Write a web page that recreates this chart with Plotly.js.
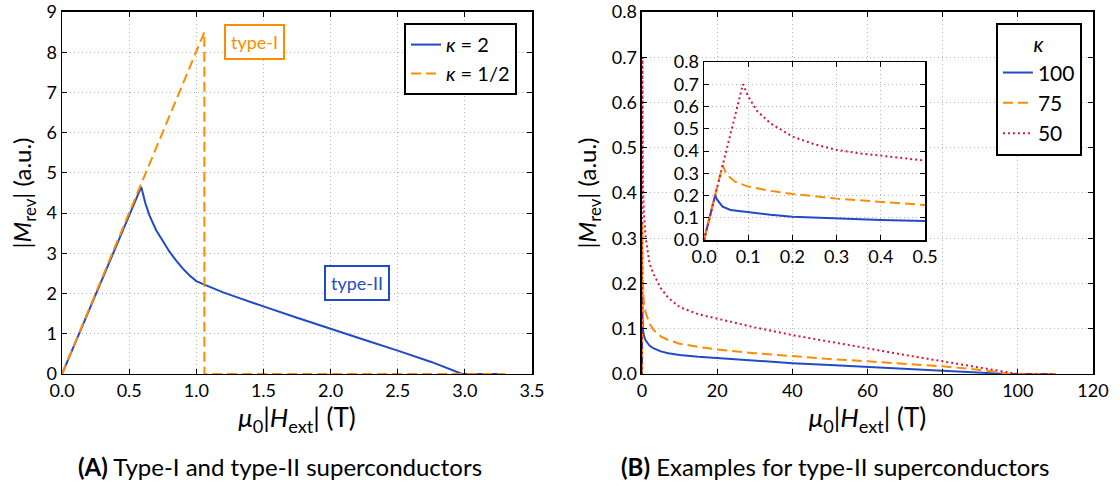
<!DOCTYPE html>
<html>
<head>
<meta charset="utf-8">
<script src="https://cdn.plot.ly/plotly-3.0.1.min.js"></script>
<style>html,body{margin:0;padding:0;background:#fff;}#chart{width:1120px;height:491px;}</style>
</head>
<body>
<div id="chart"></div>
<script>
// ---- Panel A data ----
const kappa2X = [0, 0.59, 0.62, 0.65, 0.7, 0.75, 0.8, 0.85, 0.9, 0.95, 1.0, 1.06, 1.1, 1.2, 1.3, 1.4, 1.5, 1.75, 2.0, 2.25, 2.5, 2.75, 2.98, 3.3];
const kappa2Y = [0, 4.65, 4.25, 3.95, 3.58, 3.3, 3.04, 2.82, 2.62, 2.45, 2.31, 2.22, 2.16, 2.03, 1.91, 1.79, 1.68, 1.4, 1.12, 0.85, 0.58, 0.3, 0, 0];
const kappaHalfX = [0, 1.06, 1.06, 3.3];
const kappaHalfY = [0, 8.5, 0, 0];

// ---- Panel B data ----
const k100X = [0, 0.025, 0.03, 0.042, 0.06, 0.1, 0.15, 0.2, 0.3, 0.4, 0.5, 1, 2, 3, 5, 7, 10, 15, 20, 30, 40, 50, 60, 70, 80, 90, 97, 110];
const k100Y = [0, 0.2, 0.18, 0.15, 0.135, 0.124, 0.113, 0.105, 0.096, 0.09, 0.085, 0.074, 0.063, 0.057, 0.05, 0.046, 0.042, 0.038, 0.035, 0.029, 0.024, 0.02, 0.0155, 0.011, 0.0074, 0.0035, 0, 0];
const k75X = [0, 0.042, 0.05, 0.057, 0.07, 0.1, 0.15, 0.2, 0.3, 0.4, 0.5, 1, 2, 3, 5, 7, 10, 15, 20, 30, 40, 50, 60, 70, 80, 90, 98, 110];
const k75Y = [0, 0.336, 0.3, 0.284, 0.262, 0.24, 0.221, 0.207, 0.186, 0.171, 0.157, 0.135, 0.112, 0.098, 0.083, 0.075, 0.067, 0.06, 0.054, 0.046, 0.039, 0.033, 0.028, 0.022, 0.017, 0.009, 0, 0];
const k50X = [0, 0.088, 0.1, 0.12, 0.15, 0.2, 0.25, 0.3, 0.35, 0.4, 0.45, 0.5, 1, 2, 3, 5, 7, 10, 15, 20, 30, 40, 50, 60, 70, 80, 90, 100, 110];
const k50Y = [0, 0.70, 0.645, 0.58, 0.525, 0.465, 0.43, 0.405, 0.39, 0.378, 0.367, 0.357, 0.3, 0.245, 0.222, 0.19, 0.168, 0.148, 0.132, 0.122, 0.103, 0.086, 0.071, 0.056, 0.042, 0.028, 0.014, 0, 0];

const seriesB = [
  {name: '100', x: k100X, y: k100Y, color: '#1f4bc6', dash: 'solid'},
  {name: '75',  x: k75X,  y: k75Y,  color: '#ff8c00', dash: '10px,5px'},
  {name: '50',  x: k50X,  y: k50Y,  color: '#dc143c', dash: '2px,3px'}
];

const BLUE = '#1f4bc6', ORANGE = '#ff8c00';
const FONT = 'Lato, "Open Sans", sans-serif';

const traces = [
  {x: kappa2X, y: kappa2Y, xaxis: 'x', yaxis: 'y', mode: 'lines', name: '<i>κ</i> = 2',
   line: {color: BLUE, width: 2}, legend: 'legend'},
  {x: kappaHalfX, y: kappaHalfY, xaxis: 'x', yaxis: 'y', mode: 'lines', name: '<i>κ</i> = 1/2',
   line: {color: ORANGE, width: 2, dash: '10px,5px'}, legend: 'legend'}
];
seriesB.forEach(s => {
  traces.push({x: s.x, y: s.y, xaxis: 'x2', yaxis: 'y2', mode: 'lines', name: s.name,
    line: {color: s.color, width: 2, dash: s.dash}, legend: 'legend2'});
});
seriesB.forEach(s => {
  traces.push({x: s.x, y: s.y, xaxis: 'x3', yaxis: 'y3', mode: 'lines', name: s.name,
    line: {color: s.color, width: 2, dash: s.dash}, showlegend: false});
});

const gridStyle = {gridcolor: '#b5b5b5', griddash: '1px,3px', gridwidth: 1};
function ax(extra) {
  return Object.assign({
    showline: true, linecolor: '#000', linewidth: 1.5, mirror: 'allticks',
    ticks: 'inside', ticklen: 5, tickwidth: 1, tickcolor: '#000',
    showgrid: true, zeroline: false, automargin: false,
    tickfont: {family: FONT, size: 18, color: '#000'}
  }, gridStyle, extra);
}
const xTitle = {text: '<i>μ</i><sub>0</sub>|<i>H</i><sub>ext</sub>| (T)', font: {family: FONT, size: 26, color: '#000'}, standoff: 4};
const yTitle = {text: '|<i>M</i><sub>rev</sub>| (a.u.)', font: {family: FONT, size: 24, color: '#000'}, standoff: 8};

const layout = {
  width: 1120, height: 491,
  margin: {l: 0, r: 0, t: 0, b: 0},
  paper_bgcolor: '#fff', plot_bgcolor: '#fff',
  font: {family: FONT, color: '#000'},
  xaxis: ax({domain: [0.0554, 0.475], range: [0, 3.5], dtick: 0.5, tick0: 0, tickformat: '.1f', title: xTitle, anchor: 'y'}),
  yaxis: ax({domain: [0.2383, 0.9756], range: [0, 9], dtick: 1, tick0: 0, title: yTitle, anchor: 'x'}),
  xaxis2: ax({domain: [0.5732, 0.9759], range: [0, 120], dtick: 20, tick0: 0, title: xTitle, anchor: 'y2'}),
  yaxis2: ax({domain: [0.2383, 0.9756], range: [0, 0.8], dtick: 0.1, tick0: 0, tickformat: '.1f', title: yTitle, anchor: 'x2'}),
  xaxis3: ax({domain: [0.6286, 0.8259], range: [0, 0.5], dtick: 0.1, tick0: 0, tickformat: '.1f', anchor: 'y3'}),
  yaxis3: ax({domain: [0.5112, 0.8737], range: [0, 0.8], dtick: 0.1, tick0: 0, tickformat: '.1f', anchor: 'x3'}),
  showlegend: true,
  legend: {x: 0.4616, y: 0.953, xanchor: 'right', yanchor: 'top', bgcolor: '#fff',
    bordercolor: '#000', borderwidth: 2, font: {family: FONT, size: 20, color: '#000'}},
  legend2: {x: 0.966, y: 0.953, xanchor: 'right', yanchor: 'top', bgcolor: '#fff',
    bordercolor: '#000', borderwidth: 2, font: {family: FONT, size: 21, color: '#000'},
    title: {text: '<i>κ</i>', side: 'top center', font: {family: FONT, size: 21, color: '#000'}}},
  shapes: [
    {type: 'rect', xref: 'x3 domain', yref: 'y3 domain', x0: 0, x1: 1, y0: 0, y1: 1,
     fillcolor: '#fff', line: {width: 0}, layer: 'below'}
  ],
  annotations: [
    {xref: 'x', yref: 'y', x: 1.43, y: 8.25, text: 'type-I', showarrow: false,
     font: {family: FONT, size: 18, color: ORANGE}, bordercolor: ORANGE, borderwidth: 2, borderpad: 5, bgcolor: '#fff'},
    {xref: 'x', yref: 'y', x: 2.2, y: 2.25, text: 'type-II', showarrow: false,
     font: {family: FONT, size: 18, color: BLUE}, bordercolor: BLUE, borderwidth: 2, borderpad: 5, bgcolor: '#fff'},
    {xref: 'paper', yref: 'paper', x: 0.25, y: 0.049, xanchor: 'center', yanchor: 'middle',
     text: '<b>(A)</b> Type-I and type-II superconductors',
     showarrow: false, font: {family: FONT, size: 24, color: '#000'}},
    {xref: 'paper', yref: 'paper', x: 0.7455, y: 0.049, xanchor: 'center', yanchor: 'middle',
     text: '<b>(B)</b> Examples for type-II superconductors',
     showarrow: false, font: {family: FONT, size: 24, color: '#000'}}
  ]
};

Plotly.newPlot('chart', traces, layout, {staticPlot: true, displayModeBar: false});
</script>
</body>
</html>
